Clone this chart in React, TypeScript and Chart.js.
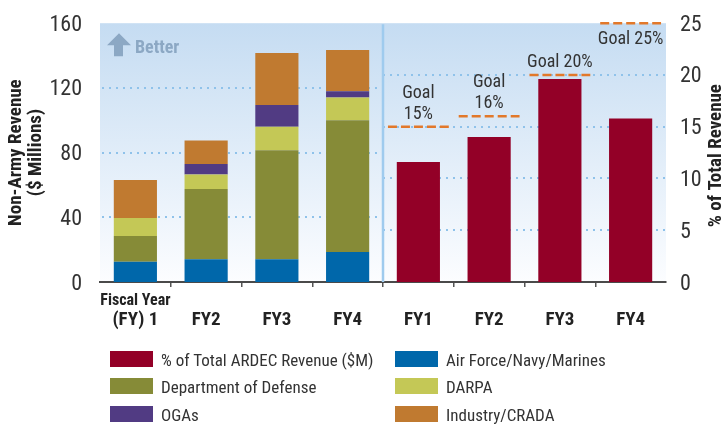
import React, { useEffect, useRef } from 'react';
import { Chart, registerables } from 'chart.js';

Chart.register(...registerables);

const FONT = "'Roboto Condensed', Roboto, sans-serif";

// ---- data ----
const categories = ['(FY) 1', 'FY2', 'FY3', 'FY4', 'FY1', 'FY2', 'FY3', 'FY4'];
const airForceNavyMarines = [12.5, 14, 14, 18.5];
const departmentOfDefense = [16, 43.5, 67.5, 81.5];
const darpa = [11, 9, 14.5, 14];
const ogas = [0, 6.5, 13.5, 4];
const industryCrada = [23.5, 14.5, 32, 25.5];
const ardecPercent = [11.6, 14, 19.6, 15.8];
const goalPercent = [15, 16, 20, 25];
const goalLabels = [['Goal', '15%'], ['Goal', '16%'], ['Goal 20%'], ['Goal 25%']];
const leftAxisTitle = ['Non-Army Revenue', '($ Millions)'];
const rightAxisTitle = '% of Total Revenue';
const fiscalYearCaption = 'Fiscal Year';
const betterCaption = 'Better';

const COLORS = {
  red: '#930027',
  blue: '#0067aa',
  olive: '#868b37',
  yellow: '#c4c856',
  purple: '#513b83',
  orange: '#c07a30',
  goal: '#e2782a',
  grid: '#8fc2ea',
  sep: '#9fcbee',
  better: '#8ca8c4',
};

const legendItems = [
  { label: '% of Total ARDEC Revenue ($M)', color: COLORS.red },
  { label: 'Department of Defense', color: COLORS.olive },
  { label: 'OGAs', color: COLORS.purple },
  { label: 'Air Force/Navy/Marines', color: COLORS.blue },
  { label: 'DARPA', color: COLORS.yellow },
  { label: 'Industry/CRADA', color: COLORS.orange },
];

const leftHalf = (arr: number[]) => [...arr, null, null, null, null];
const rightHalf = (arr: number[]) => [null, null, null, null, ...arr];

const decorPlugin = {
  id: 'decor',
  beforeDraw(chart: any) {
    const { ctx, chartArea: a } = chart;
    const g = ctx.createLinearGradient(0, a.top, 0, a.bottom);
    g.addColorStop(0, '#c5dcf2');
    g.addColorStop(1, '#fcfdff');
    ctx.save();
    ctx.fillStyle = g;
    ctx.fillRect(a.left, a.top, a.right - a.left, a.bottom - a.top);
    ctx.restore();
  },
  beforeDatasetsDraw(chart: any) {
    const { ctx, chartArea: a, scales } = chart;
    const { x, y, y1 } = scales;
    const sep = (x.getPixelForValue(3) + x.getPixelForValue(4)) / 2;
    ctx.save();
    ctx.strokeStyle = COLORS.grid;
    ctx.lineWidth = 2;
    ctx.setLineDash([2, 5]);
    y.ticks.forEach((t: any) => {
      if (t.value <= y.min || t.value >= y.max) return;
      const py = Math.round(y.getPixelForValue(t.value));
      ctx.beginPath();
      ctx.moveTo(a.left + 2, py);
      ctx.lineTo(sep, py);
      ctx.stroke();
    });
    y1.ticks.forEach((t: any) => {
      if (t.value <= y1.min || t.value >= y1.max) return;
      const py = Math.round(y1.getPixelForValue(t.value));
      ctx.beginPath();
      ctx.moveTo(sep, py);
      ctx.lineTo(a.right, py);
      ctx.stroke();
    });
    ctx.setLineDash([]);
    ctx.strokeStyle = COLORS.sep;
    ctx.lineWidth = 2.5;
    ctx.beginPath();
    ctx.moveTo(sep, a.top + 1);
    ctx.lineTo(sep, a.bottom);
    ctx.stroke();

    // "Better" arrow
    const l = a.left, t = a.top;
    ctx.fillStyle = COLORS.better;
    ctx.beginPath();
    ctx.moveTo(l + 19, t + 10);
    ctx.lineTo(l + 31, t + 22);
    ctx.lineTo(l + 23, t + 22);
    ctx.lineTo(l + 23, t + 33);
    ctx.lineTo(l + 14, t + 33);
    ctx.lineTo(l + 14, t + 22);
    ctx.lineTo(l + 7, t + 22);
    ctx.closePath();
    ctx.fill();
    ctx.font = `bold 18px ${FONT}`;
    ctx.textAlign = 'left';
    ctx.textBaseline = 'alphabetic';
    ctx.fillText(betterCaption, l + 35, t + 30);
    ctx.restore();
  },
  afterDatasetsDraw(chart: any) {
    const { ctx, scales } = chart;
    const { x, y1 } = scales;
    const catW = x.getPixelForValue(1) - x.getPixelForValue(0);
    ctx.save();
    goalPercent.forEach((g, i) => {
      const cx = x.getPixelForValue(4 + i);
      const py = y1.getPixelForValue(g);
      ctx.strokeStyle = COLORS.goal;
      ctx.lineWidth = 2.5;
      ctx.setLineDash([9, 4]);
      ctx.beginPath();
      ctx.moveTo(cx - catW * 0.43, py);
      ctx.lineTo(cx + catW * 0.43, py);
      ctx.stroke();
      ctx.setLineDash([]);
      ctx.fillStyle = '#333';
      ctx.font = `18px ${FONT}`;
      ctx.textAlign = 'center';
      ctx.textBaseline = 'alphabetic';
      const lines = goalLabels[i];
      if (g >= y1.max) {
        lines.forEach((ln, k) => ctx.fillText(ln, cx, py + 21 + k * 21));
      } else {
        lines.forEach((ln, k) => ctx.fillText(ln, cx, py - 8 - (lines.length - 1 - k) * 21));
      }
    });
    ctx.restore();
  },
  afterDraw(chart: any) {
    const { ctx, chartArea: a, scales } = chart;
    const { x } = scales;
    ctx.save();
    ctx.fillStyle = '#222';
    ctx.font = `bold 16px ${FONT}`;
    ctx.textAlign = 'center';
    ctx.textBaseline = 'alphabetic';
    ctx.fillText(fiscalYearCaption, x.getPixelForValue(0), a.bottom + 23);

    ctx.font = `bold 19px ${FONT}`;
    ctx.textBaseline = 'middle';
    const cy = (a.top + a.bottom) / 2;
    leftAxisTitle.forEach((ln, k) => {
      ctx.save();
      ctx.translate(16.5 + k * 20, cy);
      ctx.rotate(-Math.PI / 2);
      ctx.fillText(ln, 0, 0);
      ctx.restore();
    });
    ctx.save();
    ctx.translate(716, cy + 3);
    ctx.rotate(-Math.PI / 2);
    ctx.fillText(rightAxisTitle, 0, 0);
    ctx.restore();
    ctx.restore();
  },
};

export default function App() {
  const ref = useRef<HTMLCanvasElement>(null);
  useEffect(() => {
    if (!ref.current) return;
    const chart = new Chart(ref.current, {
      type: 'bar',
      data: {
        labels: categories,
        datasets: [
          { label: 'Air Force/Navy/Marines', data: leftHalf(airForceNavyMarines), backgroundColor: COLORS.blue, yAxisID: 'y', stack: 's' },
          { label: 'Department of Defense', data: leftHalf(departmentOfDefense), backgroundColor: COLORS.olive, yAxisID: 'y', stack: 's' },
          { label: 'DARPA', data: leftHalf(darpa), backgroundColor: COLORS.yellow, yAxisID: 'y', stack: 's' },
          { label: 'OGAs', data: leftHalf(ogas), backgroundColor: COLORS.purple, yAxisID: 'y', stack: 's' },
          { label: 'Industry/CRADA', data: leftHalf(industryCrada), backgroundColor: COLORS.orange, yAxisID: 'y', stack: 's' },
          { label: '% of Total ARDEC Revenue ($M)', data: rightHalf(ardecPercent), backgroundColor: COLORS.red, yAxisID: 'y1', stack: 's' },
        ] as any,
      },
      options: {
        responsive: false,
        animation: false,
        devicePixelRatio: 1,
        layout: { padding: { top: 17, left: 0, right: 0, bottom: 0 } },
        datasets: { bar: { categoryPercentage: 1, barPercentage: 0.61, borderWidth: 0 } },
        plugins: { legend: { display: false }, tooltip: { enabled: false } },
        scales: {
          x: {
            stacked: true,
            offset: true,
            grid: {
              display: true,
              drawOnChartArea: false,
              drawTicks: true,
              tickLength: 5,
              offset: true,
              lineWidth: 1.5,
              color: (c: any) => (c.type === 'tick' && c.index > 0 ? '#555' : 'rgba(0,0,0,0)'),
            },
            border: { display: true, color: '#4a4a4a', width: 2 },
            ticks: { font: { family: FONT, size: 19, weight: 'bold' }, color: '#222', padding: 22, maxRotation: 0, autoSkip: false },
            afterFit: (s: any) => { s.height = 426 - 282; },
          },
          y: {
            position: 'left',
            stacked: true,
            min: 0,
            max: 160,
            ticks: { stepSize: 40, font: { family: FONT, size: 22 }, color: '#333', padding: 10, labelOffset: 2 },
            grid: { display: false },
            border: { display: false },
            afterFit: (s: any) => { s.width = 100; },
          },
          y1: {
            position: 'right',
            stacked: true,
            min: 0,
            max: 25,
            ticks: { stepSize: 5, font: { family: FONT, size: 22 }, color: '#333', padding: 6, labelOffset: 2 },
            grid: { display: false },
            border: { display: false },
            afterFit: (s: any) => { s.width = 59; },
          },
        },
      } as any,
      plugins: [decorPlugin],
    });
    return () => chart.destroy();
  }, []);

  const rowTops = [351, 378, 406];
  const colLefts = [110, 395];
  return (
    <div style={{ position: 'fixed', left: 0, top: 0, width: 725, height: 426, background: '#fff', overflow: 'hidden' }}>
      <canvas ref={ref} width={725} height={426} style={{ position: 'absolute', left: 0, top: 0 }} />
      {legendItems.map((it, i) => {
        const col = Math.floor(i / 3);
        const row = i % 3;
        return (
          <div key={it.label} style={{ position: 'absolute', left: colLefts[col], top: rowTops[row], height: 16, display: 'flex', alignItems: 'flex-start' }}>
            <div style={{ width: 43, height: 15.5, background: it.color }} />
            <div style={{ marginLeft: 8, marginTop: 0.5, fontFamily: FONT, fontSize: 17, lineHeight: '16px', color: '#333', whiteSpace: 'nowrap' }}>{it.label}</div>
          </div>
        );
      })}
    </div>
  );
}
